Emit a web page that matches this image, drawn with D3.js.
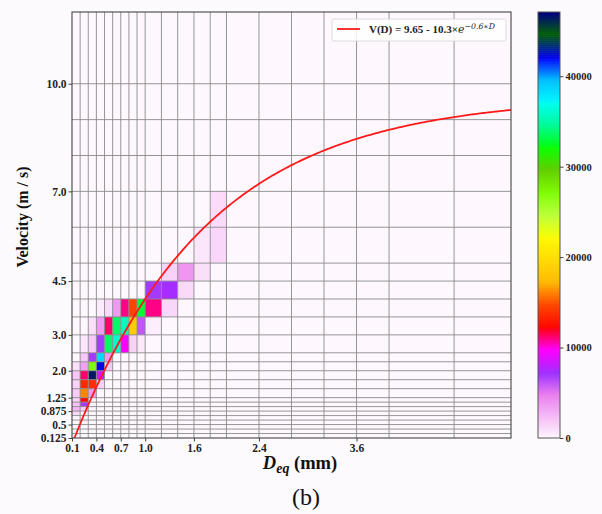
<!DOCTYPE html>
<html lang="en">
<head>
<meta charset="UTF-8">
<title>Velocity vs Deq</title>
<style>
  body { margin: 0; background: #fcfafc; }
  svg { display: block; }
  text { font-family: "Liberation Serif", "Times New Roman", serif; }
</style>
</head>
<body>
<svg id="chart" width="602" height="514"></svg>
<script src="https://d3js.org/d3.v7.min.js"></script>
<script>
// bin edges of the 2D histogram
const dEdges = [0.1, 0.2, 0.3, 0.4, 0.5, 0.6, 0.7, 0.8, 0.9, 1.0, 1.2, 1.4, 1.6, 1.8, 2.0,
                2.4, 2.8, 3.2, 3.6, 4.0, 4.8, 5.5];
const vEdges = [0.125, 0.25, 0.375, 0.5, 0.625, 0.75, 0.875, 1.0, 1.125, 1.25, 1.5, 1.75,
                2.0, 2.25, 2.5, 3.0, 3.5, 4.0, 4.5, 5.0, 6.0, 7.0, 8.0, 9.0, 10.0, 12.0];

const dTicks = [0.1, 0.4, 0.7, 1.0, 1.6, 2.4, 3.6];
const dTickLabels = ["0.1", "0.4", "0.7", "1.0", "1.6", "2.4", "3.6"];
const vTicks = [0.125, 0.5, 0.875, 1.25, 2.0, 3.0, 4.5, 7.0, 10.0];
const vTickLabels = ["0.125", "0.5", "0.875", "1.25", "2.0", "3.0", "4.5", "7.0", "10.0"];
const cbTicks = [0, 10000, 20000, 30000, 40000];
const countMax = 47100;

// non-empty bins: [D lower edge, V lower edge, count]
const cells = [
  [0.1, 0.75, 1200],
  [0.1, 0.875, 2600], [0.2, 0.875, 1500],
  [0.1, 1.0, 2200], [0.2, 1.0, 7000],
  [0.1, 1.125, 1500], [0.2, 1.125, 12300],
  [0.1, 1.25, 1800], [0.2, 1.25, 16200], [0.3, 1.25, 3800],
  [0.1, 1.5, 1500], [0.2, 1.5, 13600], [0.3, 1.5, 13800], [0.4, 1.5, 1500],
  [0.1, 1.75, 2000], [0.2, 1.75, 11300], [0.3, 1.75, 46500], [0.4, 1.75, 8500],
  [0.1, 2.0, 900], [0.2, 2.0, 3500], [0.3, 2.0, 27300], [0.4, 2.0, 42300], [0.5, 2.0, 1800],
  [0.2, 2.25, 1900], [0.3, 2.25, 7000], [0.4, 2.25, 38500], [0.5, 2.25, 3800],
  [0.2, 2.5, 700], [0.3, 2.5, 1900], [0.4, 2.5, 7000], [0.5, 2.5, 33800], [0.6, 2.5, 36000],
  [0.7, 2.5, 9600], [0.8, 2.5, 1500], [0.9, 2.5, 600],
  [0.3, 3.0, 1000], [0.4, 3.0, 3800], [0.5, 3.0, 11300], [0.6, 3.0, 33800], [0.7, 3.0, 35700],
  [0.8, 3.0, 18800], [0.9, 3.0, 6100], [1.0, 3.0, 400],
  [0.4, 3.5, 500], [0.5, 3.5, 1200], [0.6, 3.5, 3800], [0.7, 3.5, 11000], [0.8, 3.5, 14600],
  [0.9, 3.5, 32900], [1.0, 3.5, 11000], [1.2, 3.5, 1300],
  [1.0, 4.0, 7000], [1.2, 4.0, 7400], [1.4, 4.0, 1200],
  [1.2, 4.5, 1500], [1.4, 4.5, 3900], [1.6, 4.5, 1000],
  [1.6, 5.0, 700], [1.8, 5.0, 1300],
  [1.8, 6.0, 1100]
];

// fitted curve V(D) = a - b * exp(-c * D)
const fitA = 9.65, fitB = 10.3, fitC = 0.6;

// gist_ncar segment data (position, value)
const ncarR = [[0, 0], [0.3098, 0], [0.3725, 0.3993], [0.4235, 0.5003], [0.5333, 1], [0.7922, 1],
  [0.8471, 0.6218], [0.898, 0.9235], [1, 0.9961]];
const ncarG = [[0, 0], [0.051, 0.3722], [0.1059, 0], [0.1569, 0.7202], [0.1608, 0.7537],
  [0.1647, 0.7752], [0.2157, 1], [0.2588, 0.9804], [0.2706, 0.9804], [0.3176, 1],
  [0.3686, 0.8081], [0.4275, 1], [0.5216, 1], [0.6314, 0.7292], [0.6863, 0.2796],
  [0.7451, 0], [0.7922, 0], [0.8431, 0.1753], [0.898, 0.5], [1, 0.9725]];
const ncarB = [[0, 0.502], [0.051, 0.0222], [0.1098, 1], [0.2039, 1], [0.2627, 0.6145],
  [0.3216, 0], [0.4157, 0], [0.4745, 0.2342], [0.5333, 0], [0.7373, 0], [0.7922, 1],
  [0.8431, 1], [0.898, 0.9341], [1, 0.9961]];

const chan = seg => d3.scaleLinear().domain(seg.map(p => p[0])).range(seg.map(p => p[1])).clamp(true);
const rS = chan(ncarR), gS = chan(ncarG), bS = chan(ncarB);
const norm = d3.scaleLinear().domain([0, countMax]).range([1, 0]).clamp(true); // reversed map
const color = n => {
  const s = norm(n);
  return d3.rgb(rS(s) * 255, gS(s) * 255, bS(s) * 255).formatHex();
};

const svg = d3.select("#chart");
const pL = 72, pR = 511, pT = 12, pB = 438;

const x = d3.scaleLinear().domain([0.1, 5.5]).range([pL, pR]);
const y = d3.scaleLinear().domain([0.125, 12]).range([pB, pT]);

svg.append("defs").append("clipPath").attr("id", "plotClip")
  .append("rect").attr("x", pL).attr("y", pT)
  .attr("width", pR - pL).attr("height", pB - pT);

// background = zero-count colour
svg.append("rect")
  .attr("x", pL).attr("y", pT)
  .attr("width", pR - pL).attr("height", pB - pT)
  .attr("fill", color(0));

const nextEdge = (edges, v) => edges[edges.indexOf(v) + 1];

svg.append("g").selectAll("rect")
  .data(cells)
  .join("rect")
  .attr("x", d => x(d[0]))
  .attr("y", d => y(nextEdge(vEdges, d[1])))
  .attr("width", d => x(nextEdge(dEdges, d[0])) - x(d[0]))
  .attr("height", d => y(d[1]) - y(nextEdge(vEdges, d[1])))
  .attr("fill", d => color(d[2]));

// grid on bin edges
const grid = svg.append("g").attr("stroke", "#8a8a8a").attr("stroke-width", 0.9);
grid.selectAll("line.v")
  .data(dEdges.slice(1, -1))
  .join("line").attr("class", "v")
  .attr("x1", d => x(d)).attr("x2", d => x(d))
  .attr("y1", pT).attr("y2", pB);
grid.selectAll("line.h")
  .data(vEdges.slice(1, -1))
  .join("line").attr("class", "h")
  .attr("y1", d => y(d)).attr("y2", d => y(d))
  .attr("x1", pL).attr("x2", pR);

// fitted curve
const curveD = d3.range(0.1, 5.5001, 0.02);
svg.append("path")
  .datum(curveD)
  .attr("clip-path", "url(#plotClip)")
  .attr("fill", "none")
  .attr("stroke", "#ff1a1a")
  .attr("stroke-width", 1.8)
  .attr("d", d3.line().x(d => x(d)).y(d => y(fitA - fitB * Math.exp(-fitC * d))));

// frame
svg.append("rect")
  .attr("x", pL).attr("y", pT)
  .attr("width", pR - pL).attr("height", pB - pT)
  .attr("fill", "none").attr("stroke", "#444").attr("stroke-width", 1.1);

// axes
const xAxis = svg.append("g")
  .attr("transform", `translate(0,${pB})`)
  .call(d3.axisBottom(x).tickValues(dTicks).tickFormat((d, i) => dTickLabels[i]).tickSize(3.5).tickPadding(2));
const yAxis = svg.append("g")
  .attr("transform", `translate(${pL},0)`)
  .call(d3.axisLeft(y).tickValues(vTicks).tickFormat((d, i) => vTickLabels[i]).tickSize(3.5).tickPadding(2));
[xAxis, yAxis].forEach(g => {
  g.select(".domain").remove();
  g.selectAll("line").attr("stroke", "#444");
  g.selectAll("text")
    .attr("font-family", "Liberation Serif")
    .attr("font-weight", "bold")
    .attr("font-size", 11.5)
    .attr("fill", "#222");
});

// axis titles
svg.append("text")
  .attr("transform", "translate(28,217) rotate(-90)")
  .attr("text-anchor", "middle")
  .attr("font-weight", "bold")
  .attr("font-size", 16)
  .attr("fill", "#111")
  .text("Velocity (m / s)");

const xt = svg.append("text")
  .attr("x", 300).attr("y", 469)
  .attr("text-anchor", "middle")
  .attr("font-weight", "bold")
  .attr("font-size", 18.5)
  .attr("fill", "#111");
xt.append("tspan").attr("font-style", "italic").text("D");
xt.append("tspan").attr("font-style", "italic").attr("font-size", 14).attr("dy", 4).text("eq");
xt.append("tspan").attr("dy", -4).text(" (mm)");

svg.append("text")
  .attr("x", 306).attr("y", 505)
  .attr("text-anchor", "middle")
  .attr("font-size", 24)
  .attr("fill", "#111")
  .text("(b)");

// legend
const lg = svg.append("g");
lg.append("rect")
  .attr("x", 332).attr("y", 19).attr("width", 174).attr("height", 22)
  .attr("rx", 2).attr("fill", "#fff").attr("fill-opacity", 0.85)
  .attr("stroke", "#d6d6d6").attr("stroke-width", 0.8);
lg.append("line")
  .attr("x1", 337).attr("x2", 360).attr("y1", 29).attr("y2", 29)
  .attr("stroke", "#ff1a1a").attr("stroke-width", 1.8);
const lt = lg.append("text")
  .attr("x", 369).attr("y", 33)
  .attr("font-weight", "bold")
  .attr("font-size", 11)
  .attr("fill", "#222");
lt.append("tspan").text("V(D) = 9.65 - 10.3\u00d7");
lt.append("tspan").attr("font-family", "DejaVu Serif").attr("font-style", "italic")
  .attr("font-weight", "normal").attr("font-size", 11).text("e");
lt.append("tspan").attr("font-family", "DejaVu Serif").attr("font-style", "italic")
  .attr("font-weight", "normal").attr("font-size", 7.8).attr("dy", -4.5).text("\u22120.6\u2217D");

// colorbar
const cbX = 538, cbW = 22;
const cy = d3.scaleLinear().domain([0, countMax]).range([pB, pT]);
const steps = d3.range(0, countMax, countMax / 212);
svg.append("g").selectAll("rect")
  .data(steps)
  .join("rect")
  .attr("x", cbX).attr("width", cbW)
  .attr("y", d => cy(d + countMax / 212))
  .attr("height", d => cy(d) - cy(d + countMax / 212) + 0.6)
  .attr("fill", d => color(d + countMax / 424));
svg.append("rect")
  .attr("x", cbX).attr("y", pT).attr("width", cbW).attr("height", pB - pT)
  .attr("fill", "none").attr("stroke", "#555").attr("stroke-width", 1);
const cbAxis = svg.append("g")
  .attr("transform", `translate(${cbX + cbW},0)`)
  .call(d3.axisRight(cy).tickValues(cbTicks).tickFormat(d3.format("d")).tickSize(3.5).tickPadding(2));
cbAxis.select(".domain").remove();
cbAxis.selectAll("line").attr("stroke", "#444");
cbAxis.selectAll("text")
  .attr("font-family", "Liberation Serif")
  .attr("font-weight", "bold")
  .attr("font-size", 10.5)
  .attr("fill", "#222");
</script>
</body>
</html>
